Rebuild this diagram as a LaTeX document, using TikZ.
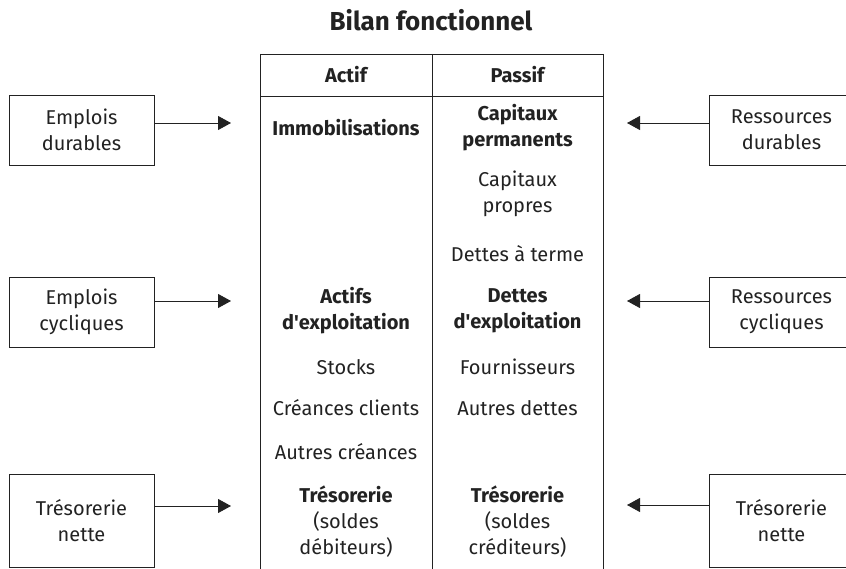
\documentclass[tikz,border=0pt]{standalone}
\usepackage{fontspec}
\setmainfont{Fira Sans}
\usetikzlibrary{arrows.meta}
\definecolor{ink}{HTML}{222222}
\tikzset{
  txt/.style={font=\fontsize{20}{26}\selectfont, align=center, inner sep=0pt, text=ink},
  btxt/.style={txt, font=\fontsize{20}{26}\selectfont\bfseries},
  sidebox/.style={draw=ink, line width=0.9pt, minimum width=145pt, minimum height=70pt, txt},
  arr/.style={draw=ink, line width=0.9pt, -{Triangle[length=13pt,width=14pt]}},
  rule/.style={draw=ink, line width=0.9pt}
}
\begin{document}
\begin{tikzpicture}[x=1pt,y=-1pt]
\useasboundingbox (0,0) rectangle (846,569);
\clip (0,0) rectangle (846,569);
% title
\node[txt, font=\fontsize{26}{30}\selectfont\bfseries] (title) at (431,20) {Bilan fonctionnel};
% table
\coordinate (tl) at (260,54);
\coordinate (tm) at (432,54);
\coordinate (tr) at (603,54);
\coordinate (bl) at (260,575);
\coordinate (bm) at (432,575);
\coordinate (br) at (603,575);
\coordinate (hl) at (260,96);
\coordinate (hr) at (603,96);
\draw[rule] (tl) -- (tr);
\draw[rule] (hl) -- (hr);
\draw[rule] (tl) -- (bl);
\draw[rule] (tm) -- (bm);
\draw[rule] (tr) -- (br);
\node[btxt] (actif) at (346,75) {Actif};
\node[btxt] (passif) at (517.5,75) {Passif};
% left column
\node[btxt] (immo) at (346,128) {Immobilisations};
\node[btxt] (actexp) at (346,310.5) {Actifs\\d\textquotesingle exploitation};
\node[txt] (stocks) at (346,367) {Stocks};
\node[txt] (crcl) at (346,408) {Créances clients};
\node[txt] (autcr) at (346,452) {Autres créances};
\node[txt] (tresa) at (346,522) {\textbf{Trésorerie}\\(soldes\\débiteurs)};
% right column
\node[btxt] (capperm) at (517.5,127.5) {Capitaux\\permanents};
\node[txt] (cappro) at (517.5,194) {Capitaux\\propres};
\node[txt] (dterme) at (517.5,254) {Dettes à terme};
\node[btxt] (detexp) at (517.5,310.5) {Dettes\\d\textquotesingle exploitation};
\node[txt] (fourn) at (517.5,367) {Fournisseurs};
\node[txt] (autdet) at (517.5,408) {Autres dettes};
\node[txt] (tresp) at (517.5,522) {\textbf{Trésorerie}\\(soldes\\créditeurs)};
% side boxes
\node[sidebox] (ed) at (81.5,130) {Emplois\\durables};
\node[sidebox] (ec) at (81.5,312) {Emplois\\cycliques};
\node[sidebox, minimum height=93pt] (tn1) at (81.5,520.5) {Trésorerie\\nette};
\node[sidebox] (rd) at (781.5,130) {Ressources\\durables};
\node[sidebox] (rc) at (781.5,312) {Ressources\\cycliques};
\node[sidebox, minimum height=93pt] (tn2) at (781.5,520.5) {Trésorerie\\nette};
% arrow targets
\coordinate (la1) at (231,123);
\coordinate (la2) at (231,301);
\coordinate (la3) at (231,506);
\coordinate (ra1) at (627,123);
\coordinate (ra2) at (627,301);
\coordinate (ra3) at (627,505);
\draw[arr] (ed.east |- la1) -- (la1);
\draw[arr] (ec.east |- la2) -- (la2);
\draw[arr] (tn1.east |- la3) -- (la3);
\draw[arr] (rd.west |- ra1) -- (ra1);
\draw[arr] (rc.west |- ra2) -- (ra2);
\draw[arr] (tn2.west |- ra3) -- (ra3);
\end{tikzpicture}
\end{document}
